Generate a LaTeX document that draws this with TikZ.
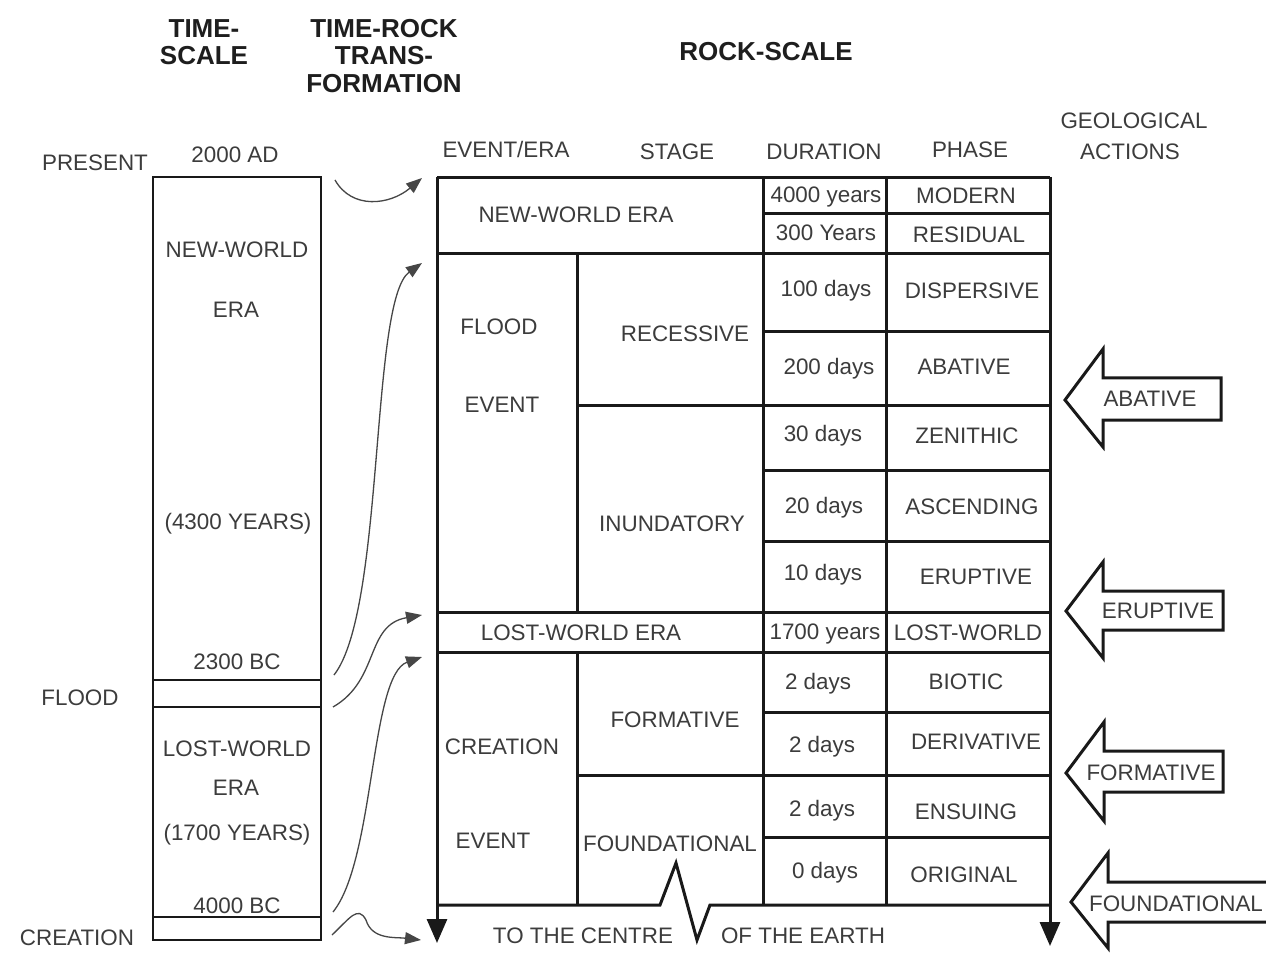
\documentclass[tikz,border=0pt]{standalone}
\usepackage{fontspec}
\setmainfont{Liberation Sans}
\usetikzlibrary{arrows.meta}
\definecolor{txtc}{RGB}{60,60,60}
\definecolor{hdc}{RGB}{30,30,30}
\definecolor{curvec}{RGB}{70,70,70}
\tikzset{
  lbl/.style={inner sep=0pt, text=txtc, font=\fontsize{11.2}{13}\selectfont, text height=8pt, text depth=0pt, anchor=center},
  hdr/.style={inner sep=0pt, text=hdc, font=\fontsize{13}{13.75}\selectfont\bfseries, align=center, anchor=center},
  rule/.style={line width=1.5pt, black!90},
  thinrule/.style={line width=1.4pt, black!90},
  morph/.style={line width=0.65pt, curvec, -{Triangle[length=8pt,width=6pt]}},
  bigarrow/.style={line width=1.5pt, black!90, fill=white, line join=miter},
  downarr/.style={line width=1.5pt, black!90, -{Triangle[length=12pt,width=10pt]}}
}
\begin{document}
\begin{tikzpicture}[x=0.5pt,y=-0.5pt]
\useasboundingbox (0,0) rectangle (1266,963);
\clip (0,0) rectangle (1266,963);
\fill[white] (0,0) rectangle (1266,963);

% headers
\node[hdr] (hts) at (204,42) {TIME-\\SCALE};
\node[hdr] (htr) at (384,56) {TIME-ROCK\\TRANS-\\FORMATION};
\node[hdr] (hrs) at (766,52) {ROCK-SCALE};

% column headers
\node[lbl] (cev) at (506,150) {EVENT/ERA};
\node[lbl] (cst) at (677,152) {STAGE};
\node[lbl] (cdu) at (824,152) {DURATION};
\node[lbl] (cph) at (970,150) {PHASE};
\node[lbl] (cg1) at (1134,121) {GEOLOGICAL};
\node[lbl] (cg2) at (1130,152) {ACTIONS};

% time-scale column
\draw[thinrule] (153,177) rectangle (321,940);
\draw[thinrule] (153,680) -- (321,680);
\draw[thinrule] (153,707) -- (321,707);
\draw[thinrule] (153,917) -- (321,917);

\node[lbl] (tpres) at (95,163) {PRESENT};
\node[lbl] (t2000) at (235,155) {2000 AD};
\node[lbl] (tnw) at (237,249) {NEW-WORLD};
\node[lbl] (tera1) at (236,310) {ERA};
\node[lbl] (t4300) at (238,522) {(4300 YEARS)};
\node[lbl] (t2300) at (237,661) {2300 BC};
\node[lbl] (tflood) at (80,697) {FLOOD};
\node[lbl] (tlw) at (237,748) {LOST-WORLD};
\node[lbl] (tera2) at (236,787) {ERA};
\node[lbl] (t1700) at (237,832) {(1700 YEARS)};
\node[lbl] (t4000) at (237,905) {4000 BC};
\node[lbl] (tcre) at (77,937) {CREATION};

% rock-scale table
\draw[rule] (437,178) -- (1050,178);
\draw[rule] (763,214) -- (1050,214);
\draw[rule] (437,254) -- (1050,254);
\draw[rule] (763,332) -- (1050,332);
\draw[rule] (577,405) -- (1050,405);
\draw[rule] (763,470) -- (1050,470);
\draw[rule] (763,541) -- (1050,541);
\draw[rule] (437,612) -- (1050,612);
\draw[rule] (437,652) -- (1050,652);
\draw[rule] (763,712) -- (1050,712);
\draw[rule] (577,775) -- (1050,775);
\draw[rule] (763,837) -- (1050,837);
\draw[rule] (577,254) -- (577,612);
\draw[rule] (577,652) -- (577,905);
\draw[rule] (763,178) -- (763,905);
\draw[rule] (886,178) -- (886,905);
\draw[rule, line join=miter] (437,905) -- (660,905) -- (676,863) -- (697,940) -- (710,905) -- (1050,905);
\draw[downarr] (437,177) -- (437,943);
\draw[downarr] (1050,177) -- (1050,946);

% table texts
\node[lbl] (nwe) at (576,215) {NEW-WORLD ERA};
\node[lbl] (d4000) at (826,195) {4000 years};
\node[lbl] (pmod) at (966,196) {MODERN};
\node[lbl] (d300) at (826,233) {300 Years};
\node[lbl] (pres) at (969,235) {RESIDUAL};
\node[lbl] (eflood) at (499,327) {FLOOD};
\node[lbl] (eevent1) at (502,405) {EVENT};
\node[lbl] (srec) at (685,334) {RECESSIVE};
\node[lbl] (sinu) at (672,523) {INUNDATORY};
\node[lbl] (d100) at (826,289) {100 days};
\node[lbl] (pdis) at (972,291) {DISPERSIVE};
\node[lbl] (d200) at (829,366) {200 days};
\node[lbl] (paba) at (964,366) {ABATIVE};
\node[lbl] (d30) at (823,434) {30 days};
\node[lbl] (pzen) at (967,436) {ZENITHIC};
\node[lbl] (d20) at (824,505) {20 days};
\node[lbl] (pasc) at (972,506) {ASCENDING};
\node[lbl] (d10) at (823,572) {10 days};
\node[lbl] (perup) at (976,576) {ERUPTIVE};
\node[lbl] (lwe) at (581,632) {LOST-WORLD ERA};
\node[lbl] (d1700) at (825,631) {1700 years};
\node[lbl] (plw) at (968,632) {LOST-WORLD};
\node[lbl] (ecre) at (502,746) {CREATION};
\node[lbl] (eevent2) at (493,840) {EVENT};
\node[lbl] (sform) at (675,719) {FORMATIVE};
\node[lbl] (sfound) at (670,843) {FOUNDATIONAL};
\node[lbl] (d2a) at (818,681) {2 days};
\node[lbl] (pbio) at (966,681) {BIOTIC};
\node[lbl] (d2b) at (822,744) {2 days};
\node[lbl] (pder) at (976,741) {DERIVATIVE};
\node[lbl] (d2c) at (822,808) {2 days};
\node[lbl] (pens) at (966,811) {ENSUING};
\node[lbl] (d0) at (825,870) {0 days};
\node[lbl] (pori) at (964,874) {ORIGINAL};
\node[lbl] (bot1) at (583,935) {TO THE CENTRE};
\node[lbl] (bot2) at (803,935) {OF THE EARTH};

% time-rock transformation curves
\coordinate (s1) at (335,180); \coordinate (e1) at (422,178);
\coordinate (s2) at (334,675); \coordinate (e2) at (422,263);
\coordinate (s3) at (333,707); \coordinate (e3) at (422,615);
\coordinate (s4) at (333,912); \coordinate (e4) at (422,657);
\coordinate (s5) at (332,935); \coordinate (e5) at (421,940);
\draw[morph] (s1) .. controls (352,210) and (390,205) .. (e1);
\draw[morph] (s2) .. controls (385,610) and (370,300) .. (e2);
\draw[morph] (s3) .. controls (380,680) and (365,625) .. (e3);
\draw[morph] (s4) .. controls (375,860) and (370,675) .. (e4);
\draw[morph] (s5) .. controls (350,918) and (358,905) .. (366,920) .. controls (372,940) and (395,937) .. (e5);

% geological action arrows
\draw[bigarrow] (1065,400) -- (1103,349) -- (1103,378) -- (1221,378) -- (1221,420) -- (1103,420) -- (1103,447) -- cycle;
\node[lbl] (gaba) at (1150,399) {ABATIVE};
\draw[bigarrow] (1066,611) -- (1103,562) -- (1103,591) -- (1223,591) -- (1223,630) -- (1103,630) -- (1103,658) -- cycle;
\node[lbl] (geru) at (1158,610) {ERUPTIVE};
\draw[bigarrow] (1066,773) -- (1104,722) -- (1104,751) -- (1223,751) -- (1223,792) -- (1104,792) -- (1104,821) -- cycle;
\node[lbl] (gform) at (1151,772) {FORMATIVE};
\draw[bigarrow] (1071,902) -- (1108,853) -- (1108,882) -- (1290,882) -- (1290,922) -- (1108,922) -- (1108,948) -- cycle;
\node[lbl] (gfound) at (1176,903) {FOUNDATIONAL};
\end{tikzpicture}
\end{document}
